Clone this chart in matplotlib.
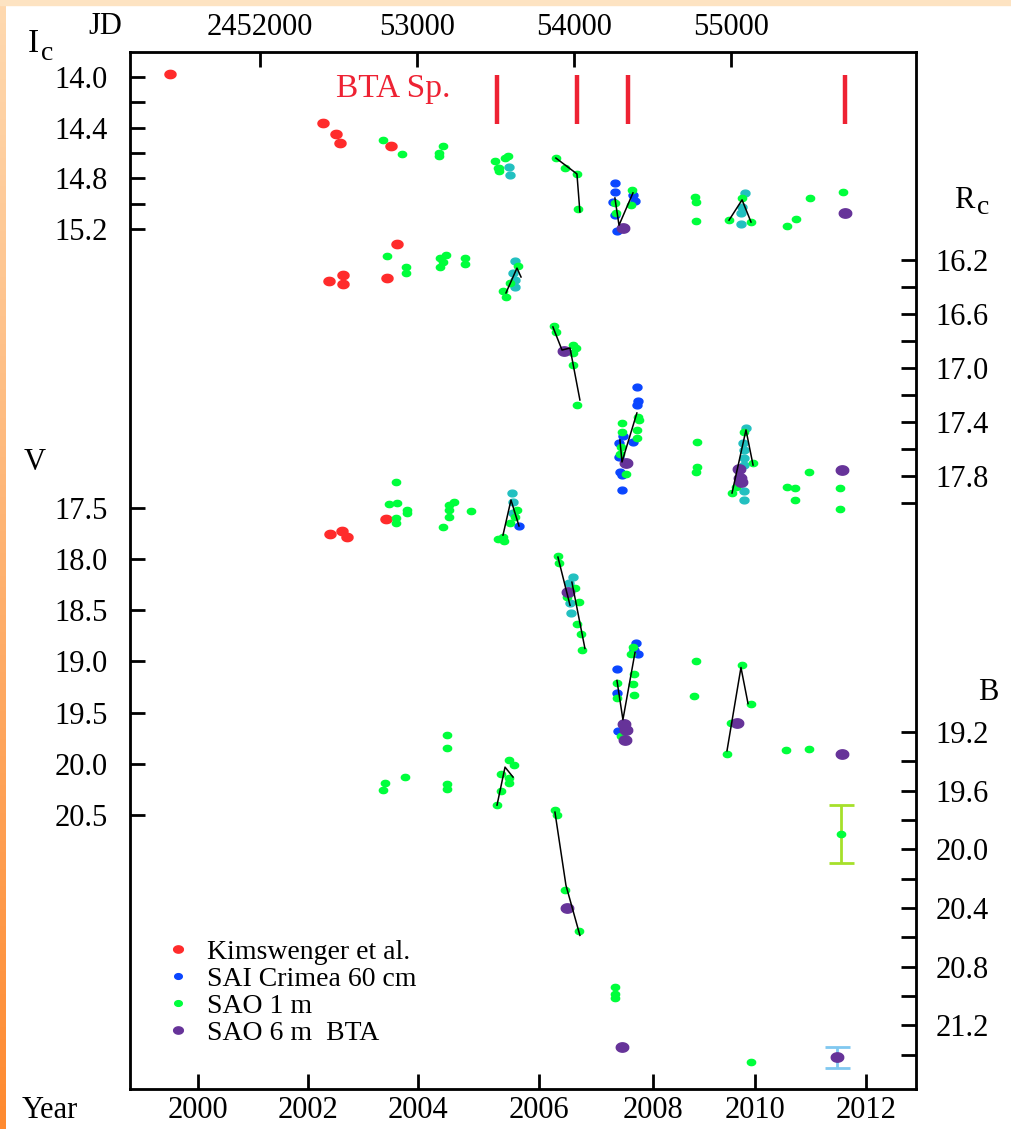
"""
Light curves in Ic, Rc, V and B (stacked, offset bands) with BTA spectra epochs.
"""

import numpy as np
import matplotlib
matplotlib.use("Agg")
import matplotlib.pyplot as plt
from matplotlib.path import Path
from matplotlib.lines import Line2D
from matplotlib.patches import Rectangle
from matplotlib.colors import LinearSegmentedColormap

# x values are JD - 2450000, y values are magnitudes in the given band

# Kimswenger et al. (red)
KIM_IC = [(1427, 13.98), (2401, 14.36), (2484, 14.45), (2510, 14.52), (2834, 14.545)]
KIM_RC = [(2873, 16.08), (2440, 16.356), (2529, 16.31), (2529, 16.378), (2809, 16.333)]
KIM_V = [(2446, 17.755), (2522, 17.725), (2554, 17.784), (2803, 17.608)]

# SAI Crimea 60 cm (blue)
SAI_IC = [(4261, 14.84), (4261, 14.91), (4249, 14.99), (4261, 15.09), (4274, 15.215),
          (4376, 14.93), (4389, 14.98)]
SAI_RC = [(4401, 17.141), (4408, 17.244), (4401, 17.274), (4376, 17.548), (4312, 17.504),
          (4287, 17.556), (4287, 17.659), (4293, 17.77), (4306, 17.793), (4306, 17.904)]
SAI_V = [(3650, 17.676), (4395, 18.824), (4382, 18.892), (4408, 18.931), (4274, 19.078),
         (4274, 19.304), (4280, 19.676)]

# SAO 1 m (green)
SAO1_IC = [(2784, 14.50), (2905, 14.61), (3140, 14.60), (3140, 14.62), (3166, 14.545),
           (3497, 14.66), (3516, 14.72), (3522, 14.72), (3522, 14.74), (3561, 14.64),
           (3580, 14.62), (3885, 14.64), (3943, 14.72), (4019, 14.765), (4026, 15.04),
           (4261, 14.995), (4268, 15.07), (4370, 14.89), (4363, 15.01), (4771, 14.95),
           (4777, 14.99), (4777, 15.14), (4988, 15.13), (5071, 14.955), (5128, 15.145),
           (5357, 15.18), (5414, 15.12), (5503, 14.955), (5714, 14.91)]
SAO1_RC = [(2809, 16.17), (2930, 16.252), (2930, 16.30), (3147, 16.185), (3185, 16.163),
           (3166, 16.215), (3147, 16.252), (3306, 16.185), (3306, 16.23), (3643, 16.244),
           (3593, 16.37), (3548, 16.43), (3567, 16.474), (3873, 16.689), (3885, 16.733),
           (3994, 16.83), (4013, 16.852), (3994, 16.889), (3994, 16.978), (4019, 17.274),
           (4408, 17.363), (4414, 17.385), (4401, 17.459), (4401, 17.519), (4306, 17.407),
           (4306, 17.474), (4299, 17.585), (4293, 17.637), (4331, 17.785), (4784, 17.548),
           (4784, 17.733), (4777, 17.77), (5083, 17.474), (5141, 17.704), (5007, 17.926),
           (5032, 17.881), (5357, 17.881), (5408, 17.889), (5408, 17.978), (5497, 17.77),
           (5694, 17.889), (5694, 18.044)]
SAO1_V = [(2866, 17.245), (2822, 17.461), (2873, 17.451), (2866, 17.598), (2866, 17.647),
          (2936, 17.52), (2936, 17.549), (3204, 17.471), (3236, 17.441), (3204, 17.52),
          (3204, 17.588), (3166, 17.686), (3344, 17.529), (3516, 17.804), (3548, 17.784),
          (3554, 17.824), (3593, 17.647), (3637, 17.52), (3624, 17.588), (3898, 17.97),
          (3904, 18.039), (3956, 18.373), (4006, 18.284), (4032, 18.422), (4019, 18.637),
          (4045, 18.735), (4051, 18.892), (4376, 18.863), (4363, 18.931), (4382, 19.118),
          (4376, 19.216), (4382, 19.324), (4274, 19.206), (4274, 19.353), (4299, 19.725),
          (4777, 19.0), (4765, 19.333), (5071, 19.039), (5128, 19.412), (5001, 19.598),
          (4975, 19.902), (5351, 19.863), (5497, 19.853)]
SAO1_B = [(2796, 19.548), (2784, 19.596), (2924, 19.507), (3191, 19.22), (3191, 19.309),
          (3191, 19.555), (3191, 19.589), (3510, 19.698), (3586, 19.391), (3618, 19.425),
          (3535, 19.487), (3586, 19.514), (3586, 19.548), (3535, 19.603), (3879, 19.732),
          (3892, 19.767), (3943, 20.278), (4032, 20.558), (4261, 20.941), (4261, 20.988),
          (4261, 21.016), (5128, 21.446)]

# overlapping blue/green points (shown in teal, not in the legend)
TEAL_IC = [(3586, 14.71), (3593, 14.77), (5090, 14.915), (5071, 15.026), (5064, 15.07),
           (5064, 15.16)]
TEAL_RC = [(3624, 16.207), (3612, 16.296), (3624, 16.348), (3624, 16.40), (5096, 17.444),
           (5077, 17.556), (5083, 17.607), (5083, 17.667), (5083, 17.719), (5083, 17.911),
           (5083, 17.978)]
TEAL_V = [(3605, 17.353), (3612, 17.441), (3612, 17.549), (3994, 18.176), (3968, 18.235),
          (3975, 18.431), (3981, 18.529)]

# SAO 6 m BTA (purple)
BTA_IC = [(4312, 15.19), (5726, 15.07)]
BTA_RC = [(3936, 16.874), (4331, 17.704), (5051, 17.748), (5058, 17.815), (5064, 17.844),
          (5707, 17.756)]
BTA_V = [(3962, 18.324), (4319, 19.608), (4331, 19.667), (4325, 19.765), (5039, 19.598),
         (5707, 19.902)]
BTA_B = [(3956, 20.401), (4306, 21.35)]

# typical error bars (jd, mag, error)
ERR_BTA_B = (5675, 21.418, 0.072)
ERR_SAO1_B = (5701, 19.896, 0.2)

# seasonal mean curves
LINES_IC = [[(3885, 14.64), (4019, 14.765), (4038, 15.065)],
            [(4261, 14.955), (4287, 15.17), (4376, 14.915)],
            [(4988, 15.13), (5071, 14.97), (5128, 15.145)]]
LINES_RC = [[(3567, 16.444), (3637, 16.26), (3663, 16.326)],
            [(3866, 16.696), (3924, 16.867), (3975, 16.852), (4038, 17.237)],
            [(4293, 17.533), (4306, 17.696), (4401, 17.333)],
            [(5007, 17.926), (5096, 17.459), (5141, 17.719)]]
LINES_V = [[(3548, 17.765), (3599, 17.422), (3650, 17.676)],
           [(3898, 17.98), (3975, 18.451)],
           [(3987, 18.225), (4070, 18.873)],
           [(4274, 19.186), (4312, 19.569), (4389, 18.912)],
           [(4975, 19.873), (5064, 19.059), (5109, 19.412)]]
LINES_B = [[(3510, 19.698), (3561, 19.439), (3612, 19.507)],
           [(3879, 19.746), (3949, 20.244), (4038, 20.586)]]

# epochs of BTA spectra
BTA_SP_JD = [3510, 4019, 4344, 5726]

# axis ticks
YEARS = [2000, 2002, 2004, 2006, 2008, 2010, 2012]
YEAR_TICK_JD = [1605, 2306, 3006, 3777, 4503, 5153, 5860]
JD_TICKS = [2000, 3000, 4000, 5000]
JD_LABELS = ['2452000', '53000', '54000', '55000']
IC_TICKS = [14.0, 14.2, 14.4, 14.6, 14.8, 15.0, 15.2]
IC_LABELED = [14.0, 14.4, 14.8, 15.2]
V_TICKS = [17.5, 18.0, 18.5, 19.0, 19.5, 20.0, 20.5]
RC_TICKS = [16.2, 16.4, 16.6, 16.8, 17.0, 17.2, 17.4, 17.6, 17.8, 18.0]
RC_LABELED = [16.2, 16.6, 17.0, 17.4, 17.8]
B_TICKS = [19.2, 19.4, 19.6, 19.8, 20.0, 20.2, 20.4, 20.6, 20.8, 21.0, 21.2, 21.4]
B_LABELED = [19.2, 19.6, 20.0, 20.4, 20.8, 21.2]

# band offsets: plot unit = V magnitude; (reference mag, plot position, scale)
BANDS = {'Ic': (14.0, 13.287, 1.2385),
         'Rc': (16.2, 15.076, 1.3196),
         'V': (17.5, 17.5, 1.0),
         'B': (19.2, 19.690, 1.434)}

RED = '#ff2b2b'
BLUE = '#0a46ff'
GREEN = '#00ff3c'
PURPLE = '#663399'
TEAL = '#22c0c0'


def to_plot(mag, band):
    m0, u0, k = BANDS[band]
    return u0 + (np.asarray(mag, dtype=float) - m0) * k


def split(points, band):
    arr = np.array(points, dtype=float)
    return arr[:, 0], to_plot(arr[:, 1], band)


# slightly flattened dot, like the original symbols
t = np.linspace(0, 2 * np.pi, 40)
DOT = Path(np.column_stack([np.cos(t), 0.75 * np.sin(t)]))

plt.rcParams['font.family'] = ['Liberation Serif', 'DejaVu Serif']

fig = plt.figure(figsize=(10.11, 11.29), dpi=100)

# orange frame strips of the slide
cmap = LinearSegmentedColormap.from_list('frame', ['#fed9b0', '#ff8a30'])
strip = fig.add_axes([0, 0, 6 / 1011, 1])
strip.imshow(np.linspace(0, 1, 200).reshape(-1, 1), aspect='auto', cmap=cmap)
strip.axis('off')
fig.patches.append(Rectangle((0, 1 - 5 / 1129), 1, 5 / 1129, transform=fig.transFigure,
                             color='#fde3c2', zorder=0))

ax = fig.add_axes([130 / 1011, 1 - 1089 / 1129, 786 / 1011, 1037 / 1129])
ax.set_xlim(1172, 6179)
ax.set_ylim(23.179, 13.043)

series = [
    (KIM_IC, 'Ic', RED, 8), (KIM_RC, 'Rc', RED, 8), (KIM_V, 'V', RED, 8),
    (SAI_IC, 'Ic', BLUE, 6.5), (SAI_RC, 'Rc', BLUE, 6.5), (SAI_V, 'V', BLUE, 6.5),
    (TEAL_IC, 'Ic', TEAL, 6.5), (TEAL_RC, 'Rc', TEAL, 6.5), (TEAL_V, 'V', TEAL, 6.5),
    (SAO1_IC, 'Ic', GREEN, 6), (SAO1_RC, 'Rc', GREEN, 6), (SAO1_V, 'V', GREEN, 6),
    (SAO1_B, 'B', GREEN, 6),
    (BTA_IC, 'Ic', PURPLE, 9), (BTA_RC, 'Rc', PURPLE, 9), (BTA_V, 'V', PURPLE, 9),
    (BTA_B, 'B', PURPLE, 9),
]
for pts, band, color, size in series:
    x, y = split(pts, band)
    ax.plot(x, y, ls='none', marker=DOT, ms=size, color=color, mec=color, zorder=2)

# seasonal mean curves drawn on top of the points
for band, groups in (('Ic', LINES_IC), ('Rc', LINES_RC), ('V', LINES_V), ('B', LINES_B)):
    for seg in groups:
        x, y = split(seg, band)
        ax.plot(x, y, color='black', lw=1.1, zorder=3)

# error bars
jd, mag, err = ERR_SAO1_B
ax.errorbar(jd, to_plot(mag, 'B'), yerr=err * BANDS['B'][2], fmt='none', ecolor='#a6e02a',
            elinewidth=2, capsize=9, capthick=2, zorder=2)
ax.plot(jd, to_plot(mag, 'B'), ls='none', marker=DOT, ms=6, color=GREEN, zorder=3)
jd, mag, err = ERR_BTA_B
ax.errorbar(jd, to_plot(mag, 'B'), yerr=err * BANDS['B'][2], fmt='none', ecolor='#80c8f0',
            elinewidth=2, capsize=9, capthick=2, zorder=2)
ax.plot(jd, to_plot(mag, 'B'), ls='none', marker=DOT, ms=9, color=PURPLE, zorder=3)

# BTA spectra marks
ax.vlines(BTA_SP_JD, 13.267, 13.746, color='#ee2233', lw=3.2, zorder=2)
ax.text(2847, 13.40, 'BTA Sp.', color='#ee2233', fontsize=24, ha='center', va='center')

# frame and ticks
for s in ax.spines.values():
    s.set_linewidth(2)
ax.tick_params(direction='in', length=11, width=2, labelsize=22)
ax.set_xticks(YEAR_TICK_JD)
ax.set_xticklabels([str(y) for y in YEARS])
ax.tick_params(axis='x', pad=5)

left_pos = list(to_plot(IC_TICKS, 'Ic')) + list(to_plot(V_TICKS, 'V'))
left_lab = [f'{v:.1f}' if v in IC_LABELED else '' for v in IC_TICKS] + [f'{v:.1f}' for v in V_TICKS]
ax.set_yticks(left_pos)
ax.set_yticklabels(left_lab)
ax.tick_params(axis='y', pad=16)

right = ax.twinx()
right.set_ylim(ax.get_ylim())
right_pos = list(to_plot(RC_TICKS, 'Rc')) + list(to_plot(B_TICKS, 'B'))
right_lab = ([f'{v:.1f}' if v in RC_LABELED else '' for v in RC_TICKS]
             + [f'{v:.1f}' if v in B_LABELED else '' for v in B_TICKS])
right.set_yticks(right_pos)
right.set_yticklabels(right_lab)
right.tick_params(direction='in', length=11, width=2, labelsize=22, pad=14)

top = ax.twiny()
top.set_xlim(ax.get_xlim())
top.set_xticks(JD_TICKS)
top.set_xticklabels(JD_LABELS)
top.tick_params(direction='in', length=11, width=2, labelsize=22, pad=7)

# band / axis captions
fs = 22
fig.text(105 / 1011, 1 - 27 / 1129, 'JD', fontsize=fs, ha='center', va='center')
fig.text(33 / 1011, 1 - 44 / 1129, 'I', fontsize=fs + 2, ha='center', va='center')
fig.text(47 / 1011, 1 - 53 / 1129, 'c', fontsize=fs - 2, ha='center', va='center')
fig.text(35 / 1011, 1 - 462 / 1129, 'V', fontsize=fs, ha='center', va='center')
fig.text(964 / 1011, 1 - 200 / 1129, 'R', fontsize=fs, ha='center', va='center')
fig.text(983 / 1011, 1 - 208 / 1129, 'c', fontsize=fs - 2, ha='center', va='center')
fig.text(988 / 1011, 1 - 692 / 1129, 'B', fontsize=fs, ha='center', va='center')
fig.text(50 / 1011, 1 - 1111 / 1129, 'Year', fontsize=fs, ha='center', va='center')

# legend
handles = [Line2D([], [], ls='none', marker=DOT, ms=ms, color=c)
           for c, ms in ((RED, 7), (BLUE, 5.5), (GREEN, 5.5), (PURPLE, 7))]
labels = ['Kimswenger et al.', 'SAI Crimea 60 cm', 'SAO 1 m', 'SAO 6 m  BTA']
ax.legend(handles, labels, loc='upper left', bbox_to_anchor=(0.045, 0.144), frameon=False,
          fontsize=20, handlelength=0.9, handletextpad=0.6, labelspacing=0.05,
          borderpad=0, borderaxespad=0)

fig.savefig('out.png', dpi=100)
